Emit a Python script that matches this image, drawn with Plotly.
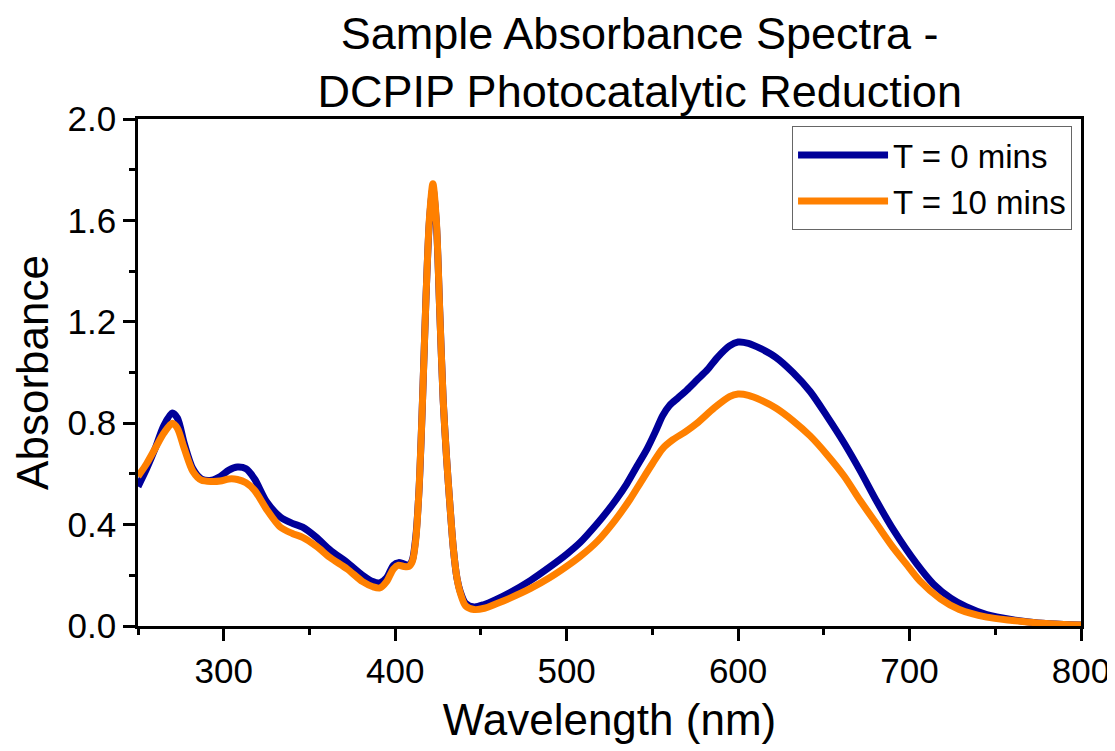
import plotly.graph_objects as go

# Wavelength (nm) sample points and absorbance readings
wl_t0 = [250, 255, 260, 265, 270, 273, 277, 282, 287, 293, 298, 303, 308, 313, 318, 325,
         333, 340, 346, 354, 362, 372, 381, 387, 391, 395, 399, 402, 405, 408, 410, 412,
         414, 416, 418, 420, 422, 424, 426, 428, 430, 432, 434, 436, 438, 441, 446, 452,
         459, 467, 479, 490, 500, 508, 518, 524, 529, 535, 541, 547, 552, 556, 560, 565,
         570, 576, 582, 588, 595, 600, 606, 613, 622, 632, 642, 652, 662, 671, 681, 691,
         704, 714, 724, 733, 745, 760, 775, 790, 800]
abs_t0 = [0.55, 0.62, 0.70, 0.79, 0.84, 0.82, 0.72, 0.62, 0.58, 0.575, 0.59, 0.615, 0.627, 0.62, 0.58, 0.49,
          0.43, 0.405, 0.39, 0.35, 0.30, 0.25, 0.20, 0.175, 0.17, 0.19, 0.24, 0.25, 0.245, 0.24, 0.26, 0.35,
          0.55, 0.90, 1.30, 1.60, 1.725, 1.59, 1.24, 0.89, 0.66, 0.47, 0.30, 0.19, 0.135, 0.09, 0.075, 0.085,
          0.105, 0.132, 0.18, 0.232, 0.283, 0.33, 0.405, 0.455, 0.50, 0.56, 0.63, 0.70, 0.77, 0.83, 0.87, 0.90,
          0.93, 0.97, 1.01, 1.06, 1.105, 1.12, 1.115, 1.095, 1.06, 1.0, 0.925, 0.826, 0.72, 0.615, 0.49, 0.375,
          0.247, 0.165, 0.11, 0.076, 0.045, 0.025, 0.012, 0.006, 0.004]

wl_t10 = [250, 255, 260, 265, 270, 273, 277, 282, 287, 293, 298, 303, 308, 313, 318, 325,
          333, 340, 346, 354, 362, 372, 381, 387, 391, 395, 399, 402, 405, 408, 410, 412,
          414, 416, 418, 420, 422, 424, 426, 428, 430, 432, 434, 436, 438, 441, 446, 452,
          459, 467, 479, 490, 500, 508, 518, 528, 537, 543, 550, 556, 562, 569, 576, 586,
          595, 600, 606, 613, 622, 632, 642, 652, 662, 671, 681, 690, 698, 706, 718, 729,
          745, 760, 775, 790, 800]
abs_t10 = [0.59, 0.64, 0.70, 0.76, 0.80, 0.78, 0.70, 0.61, 0.575, 0.57, 0.572, 0.58, 0.578, 0.565, 0.535, 0.46,
           0.39, 0.365, 0.35, 0.315, 0.27, 0.225, 0.175, 0.155, 0.15, 0.175, 0.225, 0.24, 0.235, 0.235, 0.255, 0.34,
           0.55, 0.90, 1.30, 1.61, 1.745, 1.60, 1.24, 0.89, 0.66, 0.47, 0.30, 0.19, 0.13, 0.08, 0.065, 0.07,
           0.088, 0.11, 0.148, 0.19, 0.235, 0.275, 0.335, 0.415, 0.50, 0.565, 0.64, 0.70, 0.735, 0.765, 0.80, 0.86,
           0.905, 0.915, 0.91, 0.892, 0.86, 0.81, 0.75, 0.675, 0.59, 0.497, 0.40, 0.313, 0.245, 0.178, 0.107, 0.065,
           0.035, 0.022, 0.012, 0.006, 0.004]

series_names = ["T = 0 mins", "T = 10 mins"]
series_colors = ["#000099", "#FF8000"]

FONT = "Arial, Liberation Sans, sans-serif"

fig = go.Figure()
for wl, ab, name, col in zip([wl_t0, wl_t10], [abs_t0, abs_t10], series_names, series_colors):
    fig.add_trace(go.Scatter(
        x=wl, y=ab, name=name, mode="lines",
        line=dict(color=col, width=7, shape="spline", smoothing=0.8),
    ))

fig.update_layout(
    width=1107, height=743,
    paper_bgcolor="white", plot_bgcolor="white",
    margin=dict(l=130, r=34, t=111, b=125),
    font=dict(family=FONT, color="black"),
    title=dict(
        text="Sample Absorbance Spectra -<br>DCPIP Photocatalytic Reduction",
        x=0.532, xanchor="center", xref="paper",
        y=0.945, yanchor="top", yref="container",
        font=dict(size=45, family=FONT, color="black"),
    ),
    showlegend=True,
    legend=dict(
        x=0.9905, xanchor="right", y=0.986, yanchor="top",
        bgcolor="white", bordercolor="#666666", borderwidth=1,
        font=dict(size=33, family=FONT, color="black"),
        tracegroupgap=0, itemwidth=90,
    ),
)

fig.update_xaxes(
    range=[250, 800], tick0=0, dtick=100, automargin=False,
    showline=True, linecolor="black", linewidth=2.5, mirror=True,
    ticks="outside", ticklen=12, tickwidth=2.5, tickcolor="black",
    minor=dict(dtick=50, tick0=0, ticks="outside", ticklen=6, tickwidth=2.5, tickcolor="black"),
    showgrid=False, zeroline=False,
    tickfont=dict(size=35, family=FONT, color="black"),
    title=dict(text="Wavelength (nm)", font=dict(size=44, family=FONT, color="black"), standoff=16),
)
fig.update_yaxes(
    range=[0, 2.0], tick0=0, dtick=0.4, tickformat=".1f", automargin=False,
    showline=True, linecolor="black", linewidth=2.5, mirror=True,
    ticks="outside", ticklen=12, tickwidth=2.5, tickcolor="black",
    minor=dict(dtick=0.2, tick0=0, ticks="outside", ticklen=6, tickwidth=2.5, tickcolor="black"),
    showgrid=False, zeroline=False,
    tickfont=dict(size=35, family=FONT, color="black"),
    title=dict(text="Absorbance", font=dict(size=44, family=FONT, color="black"), standoff=16),
)

fig.write_html("out.html")
